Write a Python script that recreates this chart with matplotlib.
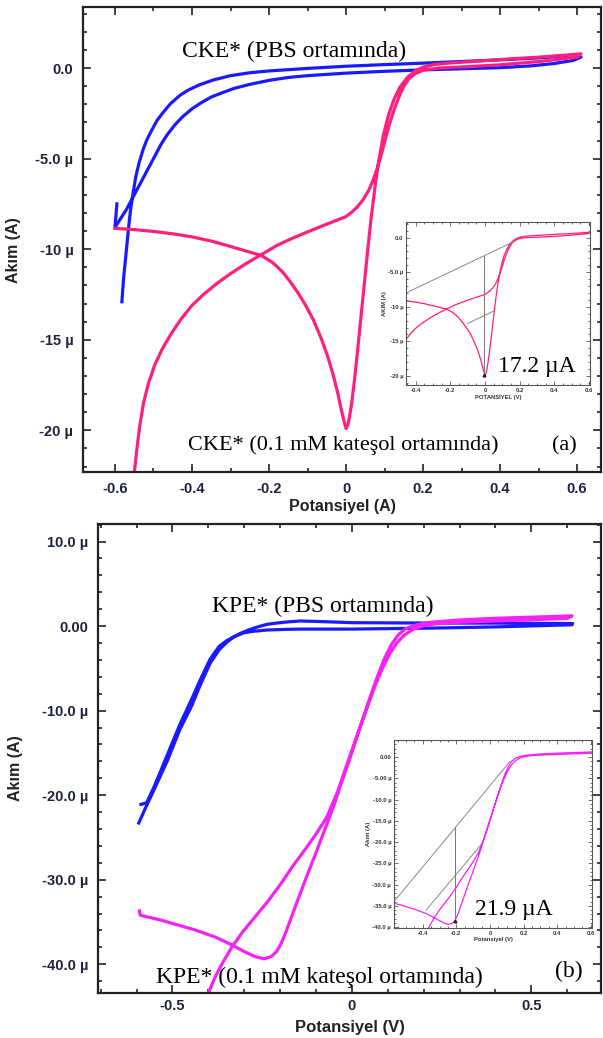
import matplotlib
matplotlib.use("Agg")
import matplotlib.pyplot as plt
from matplotlib.ticker import FixedLocator, FixedFormatter, MultipleLocator

W, H = 603, 1038

# (a) CKE*  -- potential (V), current (µA)
cke_pbs_v = [-0.595, -0.600, -0.585, -0.570, -0.555, -0.540, -0.525, -0.510, -0.495, -0.480,
             -0.465, -0.445, -0.425, -0.400, -0.375, -0.350, -0.320, -0.290, -0.250, -0.200,
             -0.150, -0.100, -0.050, 0.000, 0.100, 0.200, 0.300, 0.400, 0.480, 0.540,
             0.590, 0.610, 0.590, 0.550, 0.500, 0.400, 0.300, 0.200, 0.100, 0.000,
             -0.100, -0.200, -0.250, -0.300, -0.345, -0.380, -0.410, -0.431, -0.455, -0.475,
             -0.491, -0.505, -0.517, -0.527, -0.537, -0.546, -0.553, -0.560, -0.566, -0.572,
             -0.578, -0.582]
cke_pbs_i = [-7.5, -8.8, -8.3, -7.8, -7.2, -6.6, -6.0, -5.4, -4.8, -4.2,
             -3.7, -3.15, -2.7, -2.25, -1.9, -1.6, -1.35, -1.12, -0.9, -0.68,
             -0.52, -0.42, -0.35, -0.28, -0.18, -0.1, -0.04, 0.02, 0.12, 0.25,
             0.42, 0.6, 0.7, 0.64, 0.56, 0.45, 0.36, 0.27, 0.19, 0.1,
             -0.02, -0.16, -0.26, -0.42, -0.66, -0.92, -1.22, -1.5, -1.95, -2.45,
             -2.9, -3.45, -3.95, -4.5, -5.2, -6.0, -6.9, -7.9, -9.1, -10.4,
             -11.7, -12.9]

cke_cat_v = [-0.600, -0.550, -0.500, -0.450, -0.400, -0.350, -0.300, -0.260, -0.220, -0.190,
             -0.165, -0.145, -0.125, -0.105, -0.085, -0.065, -0.048, -0.034, -0.022, -0.012,
             -0.004, 0.000, 0.006, 0.014, 0.022, 0.030, 0.038, 0.047, 0.056, 0.065,
             0.075, 0.085, 0.097, 0.110, 0.125, 0.140, 0.160, 0.180, 0.200, 0.230,
             0.270, 0.300, 0.400, 0.500, 0.610,
             0.600, 0.500, 0.400, 0.300, 0.240, 0.200, 0.180, 0.163, 0.150, 0.140,
             0.130, 0.120, 0.110, 0.100, 0.090, 0.080, 0.070, 0.060, 0.045, 0.030,
             0.015, 0.000, -0.030, -0.060, -0.100, -0.140, -0.180, -0.220, -0.260, -0.300,
             -0.336, -0.370, -0.400, -0.430, -0.455, -0.477, -0.497, -0.513, -0.526, -0.536,
             -0.544, -0.550, -0.555]
cke_cat_i = [-8.85, -8.92, -9.02, -9.15, -9.32, -9.55, -9.85, -10.1, -10.35, -10.75,
             -11.25, -11.8, -12.4, -13.1, -13.9, -14.9, -15.9, -16.9, -17.9, -18.9,
             -19.6, -19.9, -19.6, -18.6, -17.2, -15.6, -13.9, -12.0, -10.1, -8.3,
             -6.6, -5.1, -3.7, -2.6, -1.7, -1.05, -0.5, -0.15, 0.05, 0.2,
             0.28, 0.32, 0.47, 0.6, 0.78,
             0.6, 0.36, 0.18, 0.06, 0.0, -0.12, -0.3, -0.6, -1.0, -1.45,
             -2.0, -2.6, -3.3, -4.1, -4.9, -5.6, -6.2, -6.7, -7.25, -7.65,
             -7.95, -8.2, -8.45, -8.7, -9.05, -9.4, -9.8, -10.3, -10.8, -11.35,
             -11.9, -12.5, -13.1, -13.9, -14.7, -15.5, -16.4, -17.4, -18.5, -19.8,
             -21.2, -22.4, -23.5]

# (b) KPE*
kpe_pbs_v = [-0.588, -0.572, -0.550, -0.515, -0.479, -0.446, -0.423, -0.395, -0.370, -0.348,
             -0.325, -0.304, -0.285, -0.270, -0.237, -0.190, -0.145, 0.000, 0.226, 0.400,
             0.613, 0.615, 0.400, 0.226, 0.000, -0.100, -0.145, -0.190, -0.210, -0.237,
             -0.250, -0.270, -0.290, -0.312, -0.330, -0.348, -0.370, -0.395, -0.423, -0.446,
             -0.479, -0.515, -0.554, -0.575, -0.594]
kpe_pbs_i = [-21.1, -20.9, -18.9, -15.3, -11.6, -8.6, -6.4, -3.9, -2.4, -1.7,
             -1.2, -0.83, -0.68, -0.6, -0.47, -0.4, -0.36, -0.36, -0.24, -0.1,
             0.15, 0.3, 0.35, 0.35, 0.4, 0.55, 0.6, 0.45, 0.35, 0.2,
             0.05, -0.2, -0.5, -0.9, -1.3, -1.9, -2.8, -4.4, -7.0, -9.4,
             -12.2, -16.0, -19.6, -21.5, -23.3]

kpe_cat_v = [-0.592, -0.590, -0.560, -0.530, -0.490, -0.440, -0.380, -0.340, -0.300, -0.270,
             -0.245, -0.225, -0.210, -0.198, -0.185, -0.170, -0.150, -0.125, -0.100, -0.075,
             -0.050, -0.030, -0.010, 0.010, 0.030, 0.050, 0.070, 0.090, 0.110, 0.130,
             0.150, 0.180, 0.220, 0.300, 0.400, 0.500, 0.613,
             0.600, 0.500, 0.400, 0.300, 0.240, 0.200, 0.170, 0.145, 0.125, 0.105,
             0.085, 0.065, 0.045, 0.025, 0.005, -0.015, -0.040, -0.070, -0.100, -0.130,
             -0.165, -0.200, -0.235, -0.270, -0.305, -0.335, -0.360, -0.380, -0.400, -0.420]
kpe_cat_i = [-33.7, -34.2, -34.5, -34.8, -35.3, -35.9, -36.8, -37.6, -38.5, -39.1,
             -39.35, -39.1, -38.5, -37.6, -36.3, -34.6, -32.3, -29.5, -26.8, -24.0,
             -21.2, -18.6, -16.2, -13.6, -11.0, -8.5, -6.1, -3.9, -2.2, -1.0,
             -0.3, 0.15, 0.45, 0.72, 0.92, 1.05, 1.2,
             0.9, 0.75, 0.6, 0.45, 0.3, 0.05, -0.4, -1.1, -2.0, -3.3,
             -5.0, -7.0, -9.3, -11.7, -14.1, -16.5, -19.6, -22.6, -24.6, -26.4,
             -28.4, -30.6, -32.6, -34.4, -36.2, -38.0, -39.8, -41.4, -43.4, -45.0]

# inset baseline constructions (V, µA)
ins_a_base_v, ins_a_base_i = [-0.456, 0.183], [-8.0, -0.38]
ins_a_peak_v, ins_a_peak_i = [-0.004, -0.004], [-2.7, -19.9]
ins_a_tail_v, ins_a_tail_i = [-0.100, 0.052], [-12.4, -10.6]
ins_b_base_v, ins_b_base_i = [-0.571, 0.120], [-34.0, -1.0]
ins_b_peak_v, ins_b_peak_i = [-0.206, -0.206], [-16.6, -38.5]
ins_b_tail_v, ins_b_tail_i = [-0.380, -0.040], [-36.0, -20.0]

# tick labels
a_yticks = [0, -5, -10, -15, -20]
a_ylabels = ["0.0", "-5.0 µ", "-10 µ", "-15 µ", "-20 µ"]
a_xticks = [-0.6, -0.4, -0.2, 0, 0.2, 0.4, 0.6]
a_xlabels = ["-0.6", "-0.4", "-0.2", "0", "0.2", "0.4", "0.6"]
b_yticks = [10, 0, -10, -20, -30, -40]
b_ylabels = ["10.0 µ", "0.00", "-10.0 µ", "-20.0 µ", "-30.0 µ", "-40.0 µ"]
b_xticks = [-0.5, 0, 0.5]
b_xlabels = ["-0.5", "0", "0.5"]
ins_xticks = [-0.4, -0.2, 0, 0.2, 0.4, 0.6]
ins_xlabels = ["-0.4", "-0.2", "0", "0.2", "0.4", "0.6"]
ins_a_yticks = [0, -5, -10, -15, -20]
ins_a_ylabels = ["0.0", "-5.0 µ", "-10 µ", "-15 µ", "-20 µ"]
ins_b_yticks = [0, -5, -10, -15, -20, -25, -30, -35, -40]
ins_b_ylabels = ["0.00", "-5.00 µ", "-10.0 µ", "-15.0 µ", "-20.0 µ", "-25.0 µ",
                 "-30.0 µ", "-35.0 µ", "-40.0 µ"]

BLUE = "#1a1aff"
PINK = "#ff1f7d"
MAGENTA = "#f522f5"
TICKCOL = "#1c2240"
SERIF = "Liberation Serif"
SANS = "Liberation Sans"


def box(x0, y0, x1, y1):
    # pixel box (left, top, right, bottom) -> figure fraction rect
    return [x0 / W, 1 - y1 / H, (x1 - x0) / W, (y1 - y0) / H]


def fxy(x, y):
    return x / W, 1 - y / H


def style_main(ax, xt, xl, yt, yl, xminor, yminor, xpad):
    ax.xaxis.set_major_locator(FixedLocator(xt))
    ax.xaxis.set_major_formatter(FixedFormatter(xl))
    ax.yaxis.set_major_locator(FixedLocator(yt))
    ax.yaxis.set_major_formatter(FixedFormatter(yl))
    ax.xaxis.set_minor_locator(MultipleLocator(xminor))
    ax.yaxis.set_minor_locator(MultipleLocator(yminor))
    ax.tick_params(which="both", direction="in", top=True, right=True, width=1.2, color="#222")
    ax.tick_params(which="major", length=6, pad=7, labelsize=10.5, labelcolor=TICKCOL)
    ax.tick_params(axis="x", which="major", pad=xpad)
    ax.tick_params(which="minor", length=3)
    for lab in ax.get_xticklabels() + ax.get_yticklabels():
        lab.set_fontweight("bold")
        lab.set_family(SANS)
    for s in ax.spines.values():
        s.set_linewidth(1.6)
        s.set_color("#222")


def style_inset(ax, yt, yl, xlab, ylab):
    ax.xaxis.set_major_locator(FixedLocator(ins_xticks))
    ax.xaxis.set_major_formatter(FixedFormatter(ins_xlabels))
    ax.yaxis.set_major_locator(FixedLocator(yt))
    ax.yaxis.set_major_formatter(FixedFormatter(yl))
    ax.xaxis.set_minor_locator(MultipleLocator(0.05))
    ax.yaxis.set_minor_locator(MultipleLocator(1))
    ax.tick_params(which="both", direction="in", top=True, right=True, width=0.6, color="#555")
    ax.tick_params(which="major", length=3, pad=2, labelsize=4.2, labelcolor="#333")
    ax.tick_params(which="minor", length=1.5)
    for lab in ax.get_xticklabels() + ax.get_yticklabels():
        lab.set_fontweight("bold")
        lab.set_family(SANS)
    for s in ax.spines.values():
        s.set_linewidth(0.8)
        s.set_color("#555")
    ax.set_xlabel(xlab, fontsize=4.2, fontweight="bold", family=SANS, color="#333", labelpad=1)
    ax.set_ylabel(ylab, fontsize=4.2, fontweight="bold", family=SANS, color="#333", labelpad=1)


fig = plt.figure(figsize=(W / 100, H / 100), dpi=100)

# ---------- panel (a) ----------
ax1 = fig.add_axes(box(83, 7, 601, 472))
ax1.plot(cke_pbs_v, cke_pbs_i, color=BLUE, lw=2.3, solid_joinstyle="round")
ax1.plot(cke_cat_v, cke_cat_i, color=PINK, lw=2.3, solid_joinstyle="round")
ax1.set_xlim(-0.683, 0.662)
ax1.set_ylim(-22.3, 3.37)
style_main(ax1, a_xticks, a_xlabels, a_yticks, a_ylabels, 0.1, 1, 7)
ax1.set_xlabel("Potansiyel (A)", fontsize=11.5, fontweight="bold", family=SANS, color="#222")
ax1.xaxis.set_label_coords(0.5, -0.058)
ax1.set_ylabel("Akım (A)", fontsize=11.5, fontweight="bold", family=SANS, color="#222")
ax1.yaxis.set_label_coords(-0.12, 0.477)

fig.text(*fxy(182, 57), "CKE* (PBS ortamında)", family=SERIF, fontsize=17, va="baseline")
fig.text(*fxy(188, 450), "CKE* (0.1 mM kateşol ortamında)", family=SERIF, fontsize=16, va="baseline")
fig.text(*fxy(552, 450), "(a)", family=SERIF, fontsize=16, va="baseline")

ins1 = fig.add_axes(box(406, 222, 590, 385))
ins1.plot(cke_cat_v, cke_cat_i, color=PINK, lw=0.9)
ins1.plot(ins_a_base_v, ins_a_base_i, color="#888", lw=0.7)
ins1.plot(ins_a_peak_v, ins_a_peak_i, color="#777", lw=0.7)
ins1.plot(ins_a_tail_v, ins_a_tail_i, color="#888", lw=0.7)
ins1.plot(ins_a_peak_v[1], ins_a_peak_i[1], marker="^", ms=2, color="#222")
ins1.set_xlim(-0.456, 0.606)
ins1.set_ylim(-21.3, 2.26)
style_inset(ins1, ins_a_yticks, ins_a_ylabels, "POTANSİYEL (V)", "AKIM (A)")
fig.text(*fxy(498, 372), "17.2 µA", family=SERIF, fontsize=17, va="baseline")

# ---------- panel (b) ----------
ax2 = fig.add_axes(box(98, 524, 601, 993))
ax2.plot(kpe_pbs_v, kpe_pbs_i, color=BLUE, lw=2.3, solid_joinstyle="round")
ax2.plot(kpe_cat_v, kpe_cat_i, color=MAGENTA, lw=2.3, solid_joinstyle="round")
ax2.set_xlim(-0.7075, 0.694)
ax2.set_ylim(-43.4, 12.07)
style_main(ax2, b_xticks, b_xlabels, b_yticks, b_ylabels, 0.1, 2, 4)
ax2.set_xlabel("Potansiyel (V)", fontsize=12, fontweight="bold", family=SANS, color="#222")
ax2.xaxis.set_label_coords(0.5, -0.057)
ax2.set_ylabel("Akım (A)", fontsize=11.5, fontweight="bold", family=SANS, color="#222")
ax2.yaxis.set_label_coords(-0.15, 0.48)

fig.text(*fxy(212, 612), "KPE* (PBS ortamında)", family=SERIF, fontsize=17, va="baseline")
fig.text(*fxy(156, 983), "KPE* (0.1 mM kateşol ortamında)", family=SERIF, fontsize=17, va="baseline")
fig.text(*fxy(555, 977), "(b)", family=SERIF, fontsize=17, va="baseline")

ins2 = fig.add_axes(box(394, 740, 592, 928))
ins2.plot(kpe_cat_v, kpe_cat_i, color=MAGENTA, lw=0.9)
ins2.plot(ins_b_base_v, ins_b_base_i, color="#888", lw=0.7)
ins2.plot(ins_b_peak_v, ins_b_peak_i, color="#777", lw=0.7)
ins2.plot(ins_b_tail_v, ins_b_tail_i, color="#888", lw=0.7)
ins2.plot(ins_b_peak_v[1], ins_b_peak_i[1], marker="^", ms=2, color="#222")
ins2.set_xlim(-0.571, 0.607)
ins2.set_ylim(-40.2, 4.0)
style_inset(ins2, ins_b_yticks, ins_b_ylabels, "Potansiyel (V)", "Akım (A)")
fig.text(*fxy(475, 915), "21.9 µA", family=SERIF, fontsize=17, va="baseline")

fig.savefig("out.png", dpi=100)
